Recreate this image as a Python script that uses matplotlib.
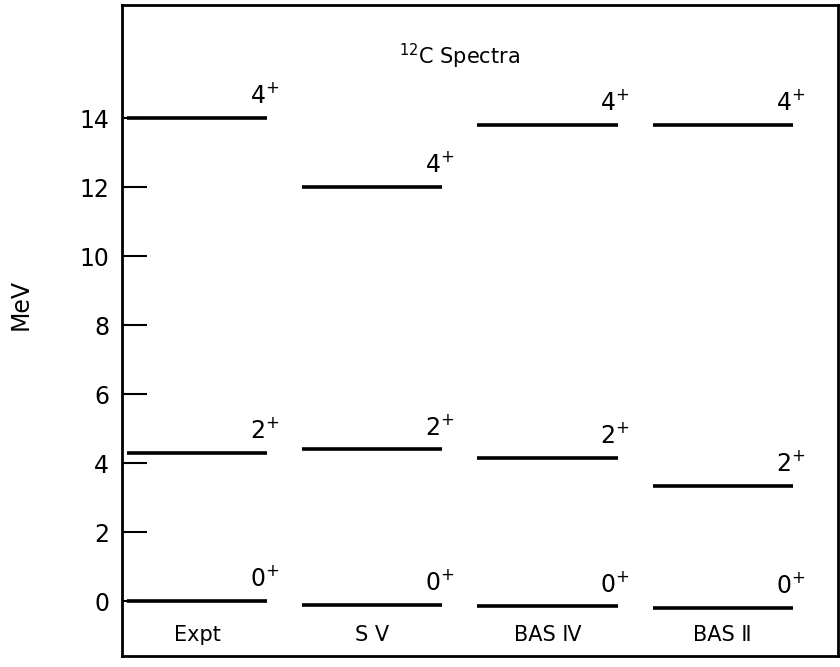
import matplotlib
matplotlib.use("Agg")
import matplotlib.pyplot as plt

# Data
models = ["Expt", "S \u2164", "BAS \u2163", "BAS \u2161"]
states = ["0", "2", "4"]
energies = {
    "Expt": [0.0, 4.3, 14.0],
    "S \u2164": [-0.1, 4.4, 12.0],
    "BAS \u2163": [-0.15, 4.15, 13.8],
    "BAS \u2161": [-0.2, 3.35, 13.8],
}
yticks = [0, 2, 4, 6, 8, 10, 12, 14]

fig = plt.figure(figsize=(8.4, 6.67), dpi=100)
ax = fig.add_axes([0.145, 0.0165, 0.853, 0.976])
plt.rcParams['font.family'] = ['DejaVu Sans']

half = 0.40
for i, m in enumerate(models):
    for s, e in zip(states, energies[m]):
        ax.hlines(e, i - half, i + half, color="black", lw=2.6)
        ax.text(i + half + 0.07, e + 0.28, s + "$^{+}$", ha="right", va="bottom",
                fontsize=17)
    ax.text(i, -0.98, m, ha="center", va="center", fontsize=15)

ax.text(1.5, 15.8, "$^{12}$C Spectra", ha="center", va="center", fontsize=15)

ax.set_xlim(-0.43, 3.66)
ax.set_ylim(-1.59, 17.28)
ax.set_yticks(yticks)
ax.set_yticklabels([str(t) for t in yticks], fontsize=17)
ax.tick_params(axis="y", direction="in", length=18, width=1.5, pad=9)
ax.set_xticks([])
ax.set_ylabel("MeV", fontsize=17)
ax.yaxis.set_label_coords(-0.125, 0.54)
for sp in ax.spines.values():
    sp.set_linewidth(2)

fig.savefig("out.png", dpi=100)
